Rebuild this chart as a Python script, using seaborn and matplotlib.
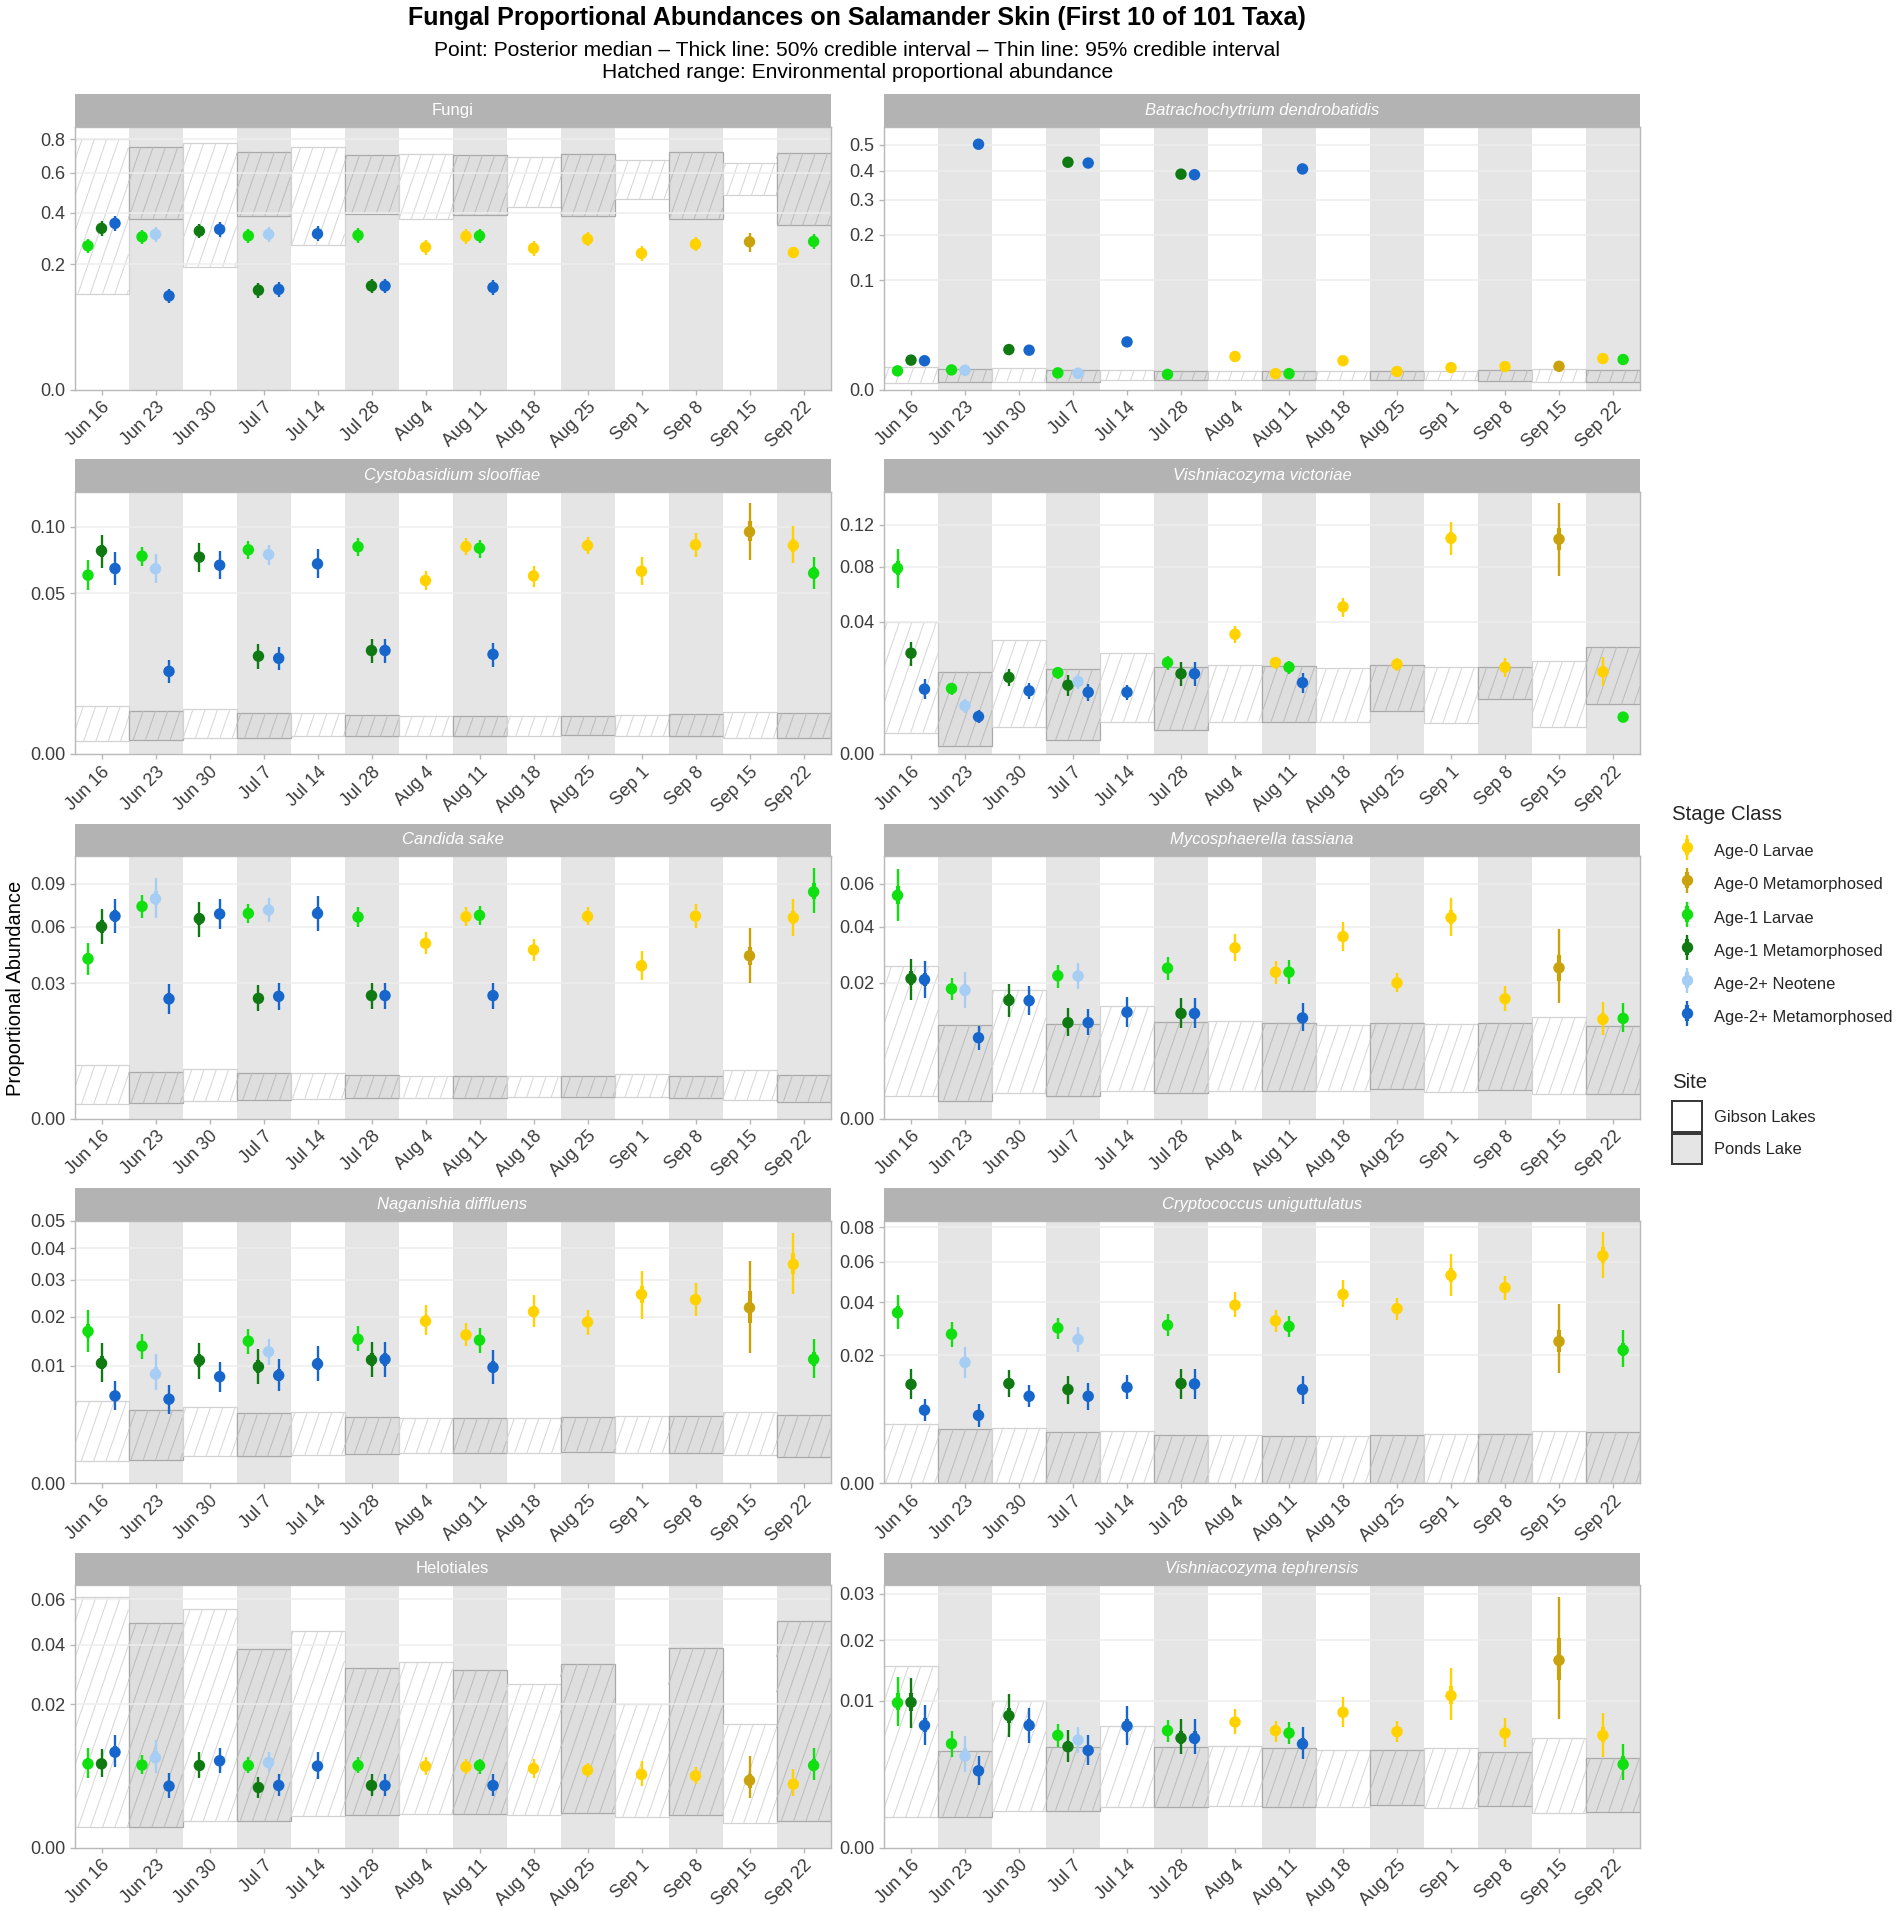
import numpy as np
import pandas as pd
import matplotlib
matplotlib.use("Agg")
import matplotlib.pyplot as plt
import seaborn as sns
from matplotlib.collections import LineCollection
from matplotlib.transforms import IdentityTransform
from matplotlib.lines import Line2D
from matplotlib.patches import Patch
from matplotlib.legend_handler import HandlerTuple

# ---------------------------------------------------------------- data
DATES = ["Jun 16", "Jun 23", "Jun 30", "Jul 7", "Jul 14", "Jul 28", "Aug 4",
         "Aug 11", "Aug 18", "Aug 25", "Sep 1", "Sep 8", "Sep 15", "Sep 22"]
SITES = ["Gibson Lakes", "Ponds Lake", "Gibson Lakes", "Ponds Lake", "Gibson Lakes",
         "Ponds Lake", "Gibson Lakes", "Ponds Lake", "Gibson Lakes", "Ponds Lake",
         "Gibson Lakes", "Ponds Lake", "Gibson Lakes", "Ponds Lake"]
STAGES = ["Age-0 Larvae", "Age-0 Metamorphosed", "Age-1 Larvae",
          "Age-1 Metamorphosed", "Age-2+ Neotene", "Age-2+ Metamorphosed"]
STAGE_COLORS = ["#FFD200", "#C9A20C", "#10E010", "#0F7A12", "#A6CEF5", "#1766CC"]

OBS_DATE = ["Jun 16", "Jun 16", "Jun 16", "Jun 23", "Jun 23", "Jun 23", "Jun 30", "Jun 30",
            "Jul 7", "Jul 7", "Jul 7", "Jul 7", "Jul 14", "Jul 28", "Jul 28", "Jul 28",
            "Aug 4", "Aug 11", "Aug 11", "Aug 11", "Aug 18", "Aug 25", "Sep 1", "Sep 8",
            "Sep 15", "Sep 22", "Sep 22"]
OBS_STAGE = ["Age-1 Larvae", "Age-1 Metamorphosed", "Age-2+ Metamorphosed",
             "Age-1 Larvae", "Age-2+ Neotene", "Age-2+ Metamorphosed",
             "Age-1 Metamorphosed", "Age-2+ Metamorphosed",
             "Age-1 Larvae", "Age-1 Metamorphosed", "Age-2+ Neotene", "Age-2+ Metamorphosed",
             "Age-2+ Metamorphosed",
             "Age-1 Larvae", "Age-1 Metamorphosed", "Age-2+ Metamorphosed",
             "Age-0 Larvae",
             "Age-0 Larvae", "Age-1 Larvae", "Age-2+ Metamorphosed",
             "Age-0 Larvae", "Age-0 Larvae", "Age-0 Larvae", "Age-0 Larvae",
             "Age-0 Metamorphosed",
             "Age-0 Larvae", "Age-1 Larvae"]

TAXA = ["Fungi", "Batrachochytrium dendrobatidis", "Cystobasidium slooffiae",
        "Vishniacozyma victoriae", "Candida sake", "Mycosphaerella tassiana",
        "Naganishia diffluens", "Cryptococcus uniguttulatus", "Helotiales",
        "Vishniacozyma tephrensis"]
TAXA_ITALIC = [False, True, True, True, True, True, True, True, False, True]

# Fungi
FUNGI_MED = [0.264, 0.332, 0.353, 0.298, 0.308, 0.112, 0.321, 0.328, 0.302, 0.126, 0.308, 0.128, 0.310, 0.304, 0.137, 0.137, 0.259, 0.300, 0.302, 0.133, 0.255, 0.289, 0.237, 0.270, 0.279, 0.240, 0.280]
FUNGI_LO95 = [0.238, 0.303, 0.323, 0.270, 0.280, 0.095, 0.292, 0.299, 0.274, 0.108, 0.280, 0.110, 0.282, 0.276, 0.118, 0.118, 0.233, 0.272, 0.274, 0.115, 0.229, 0.262, 0.212, 0.244, 0.243, 0.223, 0.253]
FUNGI_HI95 = [0.291, 0.363, 0.385, 0.327, 0.338, 0.130, 0.351, 0.359, 0.331, 0.145, 0.338, 0.147, 0.340, 0.333, 0.157, 0.157, 0.286, 0.329, 0.331, 0.153, 0.282, 0.318, 0.263, 0.298, 0.312, 0.261, 0.308]
FUNGI_LO50 = [0.253, 0.319, 0.340, 0.286, 0.296, 0.105, 0.309, 0.315, 0.290, 0.118, 0.296, 0.120, 0.298, 0.292, 0.129, 0.129, 0.248, 0.288, 0.290, 0.125, 0.244, 0.277, 0.227, 0.259, 0.266, 0.233, 0.268]
FUNGI_HI50 = [0.275, 0.345, 0.366, 0.310, 0.320, 0.119, 0.334, 0.341, 0.314, 0.134, 0.320, 0.136, 0.322, 0.316, 0.145, 0.145, 0.270, 0.312, 0.314, 0.141, 0.266, 0.301, 0.248, 0.282, 0.292, 0.247, 0.292]
FUNGI_ENV_LO = [0.117, 0.373, 0.191, 0.386, 0.267, 0.392, 0.370, 0.389, 0.426, 0.383, 0.464, 0.371, 0.483, 0.344]
FUNGI_ENV_HI = [0.804, 0.750, 0.779, 0.723, 0.752, 0.701, 0.711, 0.703, 0.693, 0.711, 0.673, 0.719, 0.656, 0.717]

# Batrachochytrium dendrobatidis
BD_MED = [0.0029, 0.0072, 0.0069, 0.0032, 0.0031, 0.502, 0.0133, 0.0129, 0.0023, 0.431, 0.0022, 0.428, 0.0189, 0.0019, 0.387, 0.385, 0.0091, 0.0021, 0.0021, 0.406, 0.0069, 0.0027, 0.0040, 0.0044, 0.0045, 0.0080, 0.0075]
BD_LO95 = [0.0021, 0.0059, 0.0056, 0.0024, 0.0023, 0.482, 0.0115, 0.0112, 0.0016, 0.413, 0.0015, 0.410, 0.0168, 0.0013, 0.370, 0.368, 0.0076, 0.0014, 0.0014, 0.388, 0.0056, 0.0019, 0.0030, 0.0034, 0.0035, 0.0066, 0.0062]
BD_HI95 = [0.0038, 0.0086, 0.0083, 0.0042, 0.0041, 0.522, 0.0152, 0.0148, 0.0031, 0.450, 0.0030, 0.447, 0.0212, 0.0027, 0.405, 0.403, 0.0107, 0.0029, 0.0029, 0.424, 0.0083, 0.0036, 0.0051, 0.0055, 0.0056, 0.0095, 0.0089]
BD_LO50 = [0.0026, 0.0066, 0.0063, 0.0028, 0.0027, 0.494, 0.0125, 0.0121, 0.0020, 0.423, 0.0019, 0.420, 0.0180, 0.0016, 0.380, 0.378, 0.0084, 0.0018, 0.0018, 0.399, 0.0063, 0.0023, 0.0036, 0.0040, 0.0041, 0.0074, 0.0069]
BD_HI50 = [0.0033, 0.0078, 0.0075, 0.0036, 0.0035, 0.511, 0.0141, 0.0137, 0.0027, 0.439, 0.0026, 0.436, 0.0199, 0.0022, 0.394, 0.392, 0.0098, 0.0024, 0.0024, 0.413, 0.0075, 0.0031, 0.0045, 0.0049, 0.0050, 0.0087, 0.0081]
BD_ENV_LO = [0.00037, 0.00045, 0.00053, 0.00053, 0.00073, 0.00068, 0.00073, 0.00073, 0.00073, 0.00073, 0.00073, 0.00063, 0.00049, 0.00045]
BD_ENV_HI = [0.00428, 0.00356, 0.00380, 0.00333, 0.00320, 0.00301, 0.00290, 0.00280, 0.00290, 0.00290, 0.00290, 0.00320, 0.00356, 0.00333]

# Cystobasidium slooffiae
CYSTO_MED = [0.0618, 0.0798, 0.0665, 0.0757, 0.0663, 0.0132, 0.0749, 0.0689, 0.0806, 0.0185, 0.0769, 0.0177, 0.0699, 0.0830, 0.0207, 0.0207, 0.0582, 0.0832, 0.0819, 0.0192, 0.0613, 0.0840, 0.0646, 0.0846, 0.0954, 0.0840, 0.0632]
CYSTO_LO95 = [0.0521, 0.0672, 0.0553, 0.0680, 0.0564, 0.0097, 0.0639, 0.0591, 0.0734, 0.0141, 0.0692, 0.0137, 0.0597, 0.0757, 0.0159, 0.0159, 0.0517, 0.0762, 0.0744, 0.0148, 0.0542, 0.0772, 0.0551, 0.0754, 0.0724, 0.0704, 0.0525]
CYSTO_HI95 = [0.0729, 0.0926, 0.0787, 0.0832, 0.0772, 0.0171, 0.0859, 0.0793, 0.0876, 0.0233, 0.0846, 0.0223, 0.0811, 0.0898, 0.0256, 0.0256, 0.0646, 0.0900, 0.0889, 0.0240, 0.0684, 0.0909, 0.0749, 0.0943, 0.1217, 0.1001, 0.0754]
CYSTO_LO50 = [0.0584, 0.0754, 0.0626, 0.0730, 0.0628, 0.0120, 0.0711, 0.0655, 0.0781, 0.0169, 0.0742, 0.0163, 0.0663, 0.0804, 0.0190, 0.0190, 0.0559, 0.0808, 0.0793, 0.0177, 0.0588, 0.0816, 0.0613, 0.0814, 0.0873, 0.0792, 0.0595]
CYSTO_HI50 = [0.0657, 0.0843, 0.0708, 0.0783, 0.0701, 0.0146, 0.0788, 0.0725, 0.0830, 0.0202, 0.0796, 0.0193, 0.0738, 0.0854, 0.0224, 0.0224, 0.0604, 0.0856, 0.0843, 0.0209, 0.0638, 0.0864, 0.0682, 0.0880, 0.1045, 0.0896, 0.0675]
CYSTO_ENV_LO = [0.00031, 0.00036, 0.00050, 0.00052, 0.00060, 0.00060, 0.00062, 0.00064, 0.00064, 0.00070, 0.00060, 0.00064, 0.00052, 0.00048]
CYSTO_ENV_HI = [0.00440, 0.00358, 0.00386, 0.00320, 0.00320, 0.00290, 0.00285, 0.00285, 0.00285, 0.00285, 0.00300, 0.00305, 0.00336, 0.00325]

# Vishniacozyma victoriae
VVIC_MED = [0.0787, 0.0232, 0.0096, 0.0098, 0.0053, 0.0032, 0.0134, 0.0091, 0.0151, 0.0108, 0.0120, 0.0087, 0.0087, 0.0191, 0.0147, 0.0147, 0.0327, 0.0191, 0.0172, 0.0116, 0.0494, 0.0184, 0.1062, 0.0172, 0.1053, 0.0154, 0.0031]
VVIC_LO95 = [0.0632, 0.0178, 0.0068, 0.0080, 0.0039, 0.0022, 0.0104, 0.0069, 0.0129, 0.0077, 0.0096, 0.0063, 0.0067, 0.0161, 0.0107, 0.0107, 0.0283, 0.0164, 0.0145, 0.0084, 0.0431, 0.0157, 0.0905, 0.0137, 0.0724, 0.0106, 0.0024]
VVIC_HI95 = [0.0957, 0.0287, 0.0129, 0.0116, 0.0068, 0.0044, 0.0164, 0.0114, 0.0174, 0.0141, 0.0145, 0.0113, 0.0108, 0.0219, 0.0192, 0.0192, 0.0374, 0.0216, 0.0198, 0.0151, 0.0558, 0.0209, 0.1233, 0.0209, 0.1443, 0.0216, 0.0041]
VVIC_LO50 = [0.0733, 0.0213, 0.0086, 0.0091, 0.0048, 0.0029, 0.0124, 0.0083, 0.0143, 0.0097, 0.0111, 0.0079, 0.0080, 0.0180, 0.0133, 0.0133, 0.0312, 0.0181, 0.0162, 0.0105, 0.0472, 0.0174, 0.1007, 0.0159, 0.0951, 0.0137, 0.0029]
VVIC_HI50 = [0.0847, 0.0251, 0.0107, 0.0104, 0.0058, 0.0037, 0.0145, 0.0099, 0.0159, 0.0120, 0.0128, 0.0096, 0.0094, 0.0201, 0.0163, 0.0163, 0.0344, 0.0200, 0.0181, 0.0128, 0.0516, 0.0193, 0.1122, 0.0185, 0.1163, 0.0176, 0.0035]
VVIC_ENV_LO = [0.00104, 0.00015, 0.00170, 0.00045, 0.00229, 0.00132, 0.00239, 0.00239, 0.00234, 0.00429, 0.00215, 0.00691, 0.00167, 0.00571]
VVIC_ENV_HI = [0.0400, 0.0155, 0.0297, 0.0164, 0.0232, 0.0172, 0.0180, 0.0177, 0.0168, 0.0180, 0.0172, 0.0174, 0.0196, 0.0260]

# Candida sake
CSAKE_MED = [0.0417, 0.0602, 0.0670, 0.0736, 0.0790, 0.0234, 0.0653, 0.0684, 0.0688, 0.0236, 0.0711, 0.0244, 0.0688, 0.0664, 0.0247, 0.0247, 0.0502, 0.0666, 0.0675, 0.0247, 0.0465, 0.0668, 0.0381, 0.0670, 0.0433, 0.0659, 0.0840]
CSAKE_LO95 = [0.0339, 0.0497, 0.0565, 0.0655, 0.0655, 0.0179, 0.0541, 0.0585, 0.0627, 0.0188, 0.0631, 0.0194, 0.0573, 0.0602, 0.0196, 0.0196, 0.0443, 0.0606, 0.0612, 0.0196, 0.0406, 0.0610, 0.0312, 0.0596, 0.0300, 0.0545, 0.0688]
CSAKE_HI95 = [0.0502, 0.0715, 0.0787, 0.0816, 0.0947, 0.0297, 0.0766, 0.0790, 0.0756, 0.0291, 0.0794, 0.0300, 0.0809, 0.0733, 0.0300, 0.0300, 0.0567, 0.0729, 0.0740, 0.0300, 0.0529, 0.0729, 0.0461, 0.0750, 0.0596, 0.0787, 0.1027]
CSAKE_LO50 = [0.0390, 0.0565, 0.0633, 0.0708, 0.0743, 0.0214, 0.0614, 0.0649, 0.0667, 0.0219, 0.0683, 0.0227, 0.0648, 0.0642, 0.0229, 0.0229, 0.0481, 0.0645, 0.0653, 0.0229, 0.0444, 0.0648, 0.0357, 0.0644, 0.0386, 0.0619, 0.0787]
CSAKE_HI50 = [0.0447, 0.0642, 0.0711, 0.0764, 0.0845, 0.0256, 0.0693, 0.0721, 0.0712, 0.0255, 0.0740, 0.0264, 0.0730, 0.0688, 0.0265, 0.0265, 0.0525, 0.0688, 0.0698, 0.0266, 0.0487, 0.0689, 0.0409, 0.0698, 0.0483, 0.0704, 0.0905]
CSAKE_ENV_LO = [0.00033, 0.00038, 0.00050, 0.00055, 0.00065, 0.00067, 0.00072, 0.00072, 0.00076, 0.00078, 0.00074, 0.00072, 0.00057, 0.00047]
CSAKE_ENV_HI = [0.00467, 0.00358, 0.00400, 0.00343, 0.00333, 0.00304, 0.00295, 0.00295, 0.00295, 0.00290, 0.00323, 0.00295, 0.00384, 0.00309]

# Mycosphaerella tassiana
MYCO_MED = [0.0542, 0.0213, 0.0210, 0.0183, 0.0179, 0.0071, 0.0152, 0.0151, 0.0222, 0.0100, 0.0221, 0.0100, 0.0123, 0.0246, 0.0120, 0.0120, 0.0317, 0.0233, 0.0233, 0.0110, 0.0360, 0.0200, 0.0439, 0.0156, 0.0247, 0.0107, 0.0109]
MYCO_LO95 = [0.0424, 0.0154, 0.0157, 0.0152, 0.0134, 0.0051, 0.0112, 0.0116, 0.0186, 0.0074, 0.0182, 0.0076, 0.0091, 0.0210, 0.0090, 0.0090, 0.0269, 0.0198, 0.0198, 0.0083, 0.0304, 0.0174, 0.0363, 0.0125, 0.0145, 0.0076, 0.0082]
MYCO_HI95 = [0.0679, 0.0278, 0.0270, 0.0216, 0.0234, 0.0093, 0.0198, 0.0191, 0.0258, 0.0132, 0.0263, 0.0130, 0.0161, 0.0284, 0.0157, 0.0157, 0.0372, 0.0269, 0.0272, 0.0144, 0.0420, 0.0231, 0.0531, 0.0190, 0.0390, 0.0148, 0.0145]
MYCO_LO50 = [0.0501, 0.0193, 0.0191, 0.0172, 0.0163, 0.0064, 0.0138, 0.0139, 0.0209, 0.0091, 0.0207, 0.0092, 0.0112, 0.0233, 0.0109, 0.0109, 0.0300, 0.0221, 0.0221, 0.0101, 0.0340, 0.0191, 0.0412, 0.0145, 0.0205, 0.0096, 0.0099]
MYCO_HI50 = [0.0590, 0.0236, 0.0231, 0.0194, 0.0198, 0.0079, 0.0168, 0.0165, 0.0235, 0.0111, 0.0236, 0.0110, 0.0136, 0.0259, 0.0133, 0.0133, 0.0336, 0.0245, 0.0247, 0.0122, 0.0381, 0.0211, 0.0471, 0.0168, 0.0290, 0.0121, 0.0122]
MYCO_ENV_LO = [0.00054, 0.00034, 0.00072, 0.00054, 0.00085, 0.00073, 0.00085, 0.00085, 0.00085, 0.00093, 0.00077, 0.00089, 0.00063, 0.00063]
MYCO_ENV_HI = [0.0252, 0.0095, 0.0181, 0.0098, 0.0138, 0.0102, 0.0104, 0.0100, 0.0096, 0.0100, 0.0098, 0.0100, 0.0112, 0.0094]

# Naganishia diffluens
NAGA_MED = [0.0167, 0.0104, 0.0055, 0.0136, 0.0086, 0.0051, 0.0109, 0.0082, 0.0146, 0.0098, 0.0125, 0.0084, 0.0103, 0.0150, 0.0110, 0.0111, 0.0190, 0.0159, 0.0148, 0.0097, 0.0213, 0.0188, 0.0258, 0.0244, 0.0223, 0.0347, 0.0111]
NAGA_LO95 = [0.0125, 0.0074, 0.0039, 0.0111, 0.0063, 0.0035, 0.0079, 0.0060, 0.0121, 0.0071, 0.0101, 0.0061, 0.0075, 0.0126, 0.0081, 0.0081, 0.0158, 0.0136, 0.0123, 0.0071, 0.0176, 0.0160, 0.0196, 0.0202, 0.0123, 0.0259, 0.0080]
NAGA_HI95 = [0.0216, 0.0142, 0.0075, 0.0162, 0.0120, 0.0070, 0.0143, 0.0106, 0.0171, 0.0131, 0.0151, 0.0111, 0.0136, 0.0178, 0.0144, 0.0145, 0.0231, 0.0185, 0.0174, 0.0128, 0.0257, 0.0216, 0.0325, 0.0289, 0.0358, 0.0455, 0.0151]
NAGA_LO50 = [0.0152, 0.0094, 0.0049, 0.0127, 0.0078, 0.0045, 0.0098, 0.0074, 0.0137, 0.0088, 0.0116, 0.0076, 0.0093, 0.0142, 0.0100, 0.0100, 0.0179, 0.0151, 0.0139, 0.0088, 0.0200, 0.0178, 0.0236, 0.0229, 0.0185, 0.0316, 0.0100]
NAGA_HI50 = [0.0184, 0.0117, 0.0062, 0.0145, 0.0098, 0.0058, 0.0121, 0.0090, 0.0154, 0.0109, 0.0134, 0.0094, 0.0114, 0.0160, 0.0122, 0.0123, 0.0204, 0.0168, 0.0157, 0.0108, 0.0228, 0.0198, 0.0282, 0.0260, 0.0268, 0.0384, 0.0125]
NAGA_ENV_LO = [0.00034, 0.00039, 0.00051, 0.00054, 0.00058, 0.00062, 0.00065, 0.00066, 0.00066, 0.00072, 0.00066, 0.00066, 0.00055, 0.00049]
NAGA_ENV_HI = [0.00487, 0.00386, 0.00422, 0.00352, 0.00362, 0.00316, 0.00310, 0.00303, 0.00303, 0.00313, 0.00322, 0.00322, 0.00362, 0.00332]

# Cryptococcus uniguttulatus
CRYPTO_MED = [0.0355, 0.0119, 0.0065, 0.0271, 0.0178, 0.0056, 0.0121, 0.0092, 0.0294, 0.0107, 0.0252, 0.0092, 0.0112, 0.0305, 0.0121, 0.0120, 0.0387, 0.0322, 0.0300, 0.0107, 0.0435, 0.0372, 0.0528, 0.0467, 0.0245, 0.0632, 0.0216]
CRYPTO_LO95 = [0.0290, 0.0086, 0.0047, 0.0227, 0.0134, 0.0039, 0.0091, 0.0070, 0.0255, 0.0077, 0.0211, 0.0066, 0.0086, 0.0265, 0.0087, 0.0087, 0.0336, 0.0280, 0.0260, 0.0077, 0.0377, 0.0327, 0.0429, 0.0410, 0.0149, 0.0512, 0.0165]
CRYPTO_HI95 = [0.0432, 0.0159, 0.0086, 0.0318, 0.0227, 0.0076, 0.0156, 0.0117, 0.0334, 0.0140, 0.0296, 0.0123, 0.0144, 0.0348, 0.0158, 0.0158, 0.0445, 0.0366, 0.0341, 0.0140, 0.0504, 0.0417, 0.0642, 0.0524, 0.0390, 0.0773, 0.0286]
CRYPTO_LO50 = [0.0332, 0.0107, 0.0058, 0.0256, 0.0162, 0.0050, 0.0110, 0.0084, 0.0280, 0.0097, 0.0238, 0.0083, 0.0103, 0.0291, 0.0109, 0.0109, 0.0369, 0.0307, 0.0286, 0.0097, 0.0415, 0.0356, 0.0493, 0.0447, 0.0211, 0.0590, 0.0198]
CRYPTO_HI50 = [0.0382, 0.0133, 0.0072, 0.0288, 0.0195, 0.0063, 0.0133, 0.0101, 0.0308, 0.0118, 0.0267, 0.0103, 0.0123, 0.0320, 0.0134, 0.0133, 0.0407, 0.0337, 0.0314, 0.0118, 0.0459, 0.0388, 0.0568, 0.0487, 0.0286, 0.0682, 0.0241]
CRYPTO_ENV_LO = [0.0, 0.0, 0.0, 0.0, 0.0, 0.0, 0.0, 0.0, 0.0, 0.0, 0.0, 0.0, 0.0, 0.0]
CRYPTO_ENV_HI = [0.00432, 0.00353, 0.00376, 0.00319, 0.00328, 0.00287, 0.00279, 0.00275, 0.00275, 0.00283, 0.00295, 0.00299, 0.00332, 0.00315]

# Helotiales
HELOT_MED = [0.00681, 0.00681, 0.00884, 0.00660, 0.00782, 0.00366, 0.00654, 0.00731, 0.00654, 0.00350, 0.00703, 0.00374, 0.00644, 0.00654, 0.00374, 0.00374, 0.00644, 0.00633, 0.00654, 0.00374, 0.00607, 0.00582, 0.00519, 0.00500, 0.00437, 0.00390, 0.00654]
HELOT_LO95 = [0.00463, 0.00486, 0.00623, 0.00523, 0.00543, 0.00234, 0.00472, 0.00543, 0.00533, 0.00243, 0.00557, 0.00260, 0.00459, 0.00533, 0.00260, 0.00260, 0.00509, 0.00519, 0.00519, 0.00260, 0.00472, 0.00477, 0.00366, 0.00386, 0.00234, 0.00256, 0.00441]
HELOT_HI95 = [0.00967, 0.00941, 0.01228, 0.00830, 0.01121, 0.00533, 0.00878, 0.00967, 0.00800, 0.00486, 0.00878, 0.00519, 0.00878, 0.00788, 0.00519, 0.00519, 0.00788, 0.00759, 0.00759, 0.00519, 0.00754, 0.00687, 0.00725, 0.00623, 0.00818, 0.00592, 0.00954]
HELOT_LO50 = [0.0060, 0.0061, 0.0079, 0.0061, 0.0070, 0.0032, 0.0059, 0.0067, 0.0061, 0.0031, 0.0065, 0.0033, 0.0058, 0.0061, 0.0033, 0.0033, 0.0060, 0.0059, 0.0061, 0.0033, 0.0056, 0.0055, 0.0047, 0.0046, 0.0035, 0.0034, 0.0058]
HELOT_HI50 = [0.0078, 0.0077, 0.0100, 0.0072, 0.0090, 0.0042, 0.0073, 0.0081, 0.0071, 0.0040, 0.0076, 0.0042, 0.0073, 0.0070, 0.0042, 0.0042, 0.0069, 0.0068, 0.0068, 0.0042, 0.0066, 0.0062, 0.0059, 0.0054, 0.0052, 0.0046, 0.0076]
HELOT_ENV_LO = [0.00040, 0.00040, 0.00067, 0.00069, 0.00096, 0.00100, 0.00110, 0.00107, 0.00103, 0.00117, 0.00092, 0.00100, 0.00059, 0.00069]
HELOT_ENV_HI = [0.0612, 0.0488, 0.0553, 0.0382, 0.0457, 0.0314, 0.0333, 0.0307, 0.0260, 0.0328, 0.0199, 0.0388, 0.0149, 0.0497]

# Vishniacozyma tephrensis
VTEPH_MED = [0.00977, 0.00982, 0.00695, 0.00502, 0.00390, 0.00274, 0.00810, 0.00695, 0.00586, 0.00473, 0.00538, 0.00439, 0.00688, 0.00636, 0.00558, 0.00555, 0.00734, 0.00636, 0.00610, 0.00499, 0.00851, 0.00625, 0.01074, 0.00610, 0.01633, 0.00586, 0.00322]
VTEPH_LO95 = [0.00691, 0.00661, 0.00489, 0.00384, 0.00267, 0.00183, 0.00565, 0.00512, 0.00473, 0.00343, 0.00413, 0.00317, 0.00489, 0.00515, 0.00404, 0.00404, 0.00596, 0.00521, 0.00499, 0.00362, 0.00672, 0.00521, 0.00757, 0.00473, 0.00769, 0.00384, 0.00212]
VTEPH_HI95 = [0.01360, 0.01344, 0.00946, 0.00632, 0.00579, 0.00392, 0.01098, 0.00907, 0.00707, 0.00643, 0.00680, 0.00589, 0.00937, 0.00757, 0.00765, 0.00765, 0.00894, 0.00749, 0.00730, 0.00672, 0.01051, 0.00745, 0.01496, 0.00777, 0.02934, 0.00847, 0.00499]
VTEPH_LO50 = [0.0088, 0.0087, 0.0062, 0.0046, 0.0035, 0.0024, 0.0072, 0.0063, 0.0055, 0.0043, 0.0050, 0.0040, 0.0062, 0.0060, 0.0050, 0.0050, 0.0069, 0.0060, 0.0057, 0.0045, 0.0079, 0.0059, 0.0096, 0.0056, 0.0130, 0.0052, 0.0028]
VTEPH_HI50 = [0.0111, 0.0111, 0.0078, 0.0055, 0.0046, 0.0031, 0.0091, 0.0077, 0.0063, 0.0053, 0.0059, 0.0049, 0.0077, 0.0068, 0.0063, 0.0063, 0.0079, 0.0067, 0.0065, 0.0056, 0.0092, 0.0067, 0.0122, 0.0066, 0.0204, 0.0068, 0.0039]
VTEPH_ENV_LO = [0.00042, 0.00044, 0.00061, 0.00063, 0.00075, 0.00075, 0.00080, 0.00078, 0.00077, 0.00084, 0.00071, 0.00080, 0.00054, 0.00059]
VTEPH_ENV_HI = [0.01536, 0.00430, 0.00995, 0.00467, 0.00684, 0.00473, 0.00483, 0.00458, 0.00439, 0.00445, 0.00464, 0.00424, 0.00555, 0.00375]

Y_MAX = [0.881, 0.575, 0.1332, 0.1572, 0.1127, 0.0750, 0.0498, 0.0843, 0.0670, 0.0321]
Y_TICKS = [[0, 0.2, 0.4, 0.6, 0.8], [0, 0.1, 0.2, 0.3, 0.4, 0.5], [0, 0.05, 0.10],
           [0, 0.04, 0.08, 0.12], [0, 0.03, 0.06, 0.09], [0, 0.02, 0.04, 0.06],
           [0, 0.01, 0.02, 0.03, 0.04, 0.05], [0, 0.02, 0.04, 0.06, 0.08],
           [0, 0.02, 0.04, 0.06], [0, 0.01, 0.02, 0.03]]
Y_DECIMALS = [1, 1, 2, 2, 2, 2, 2, 2, 2, 2]

PANEL_DATA = [
    (FUNGI_MED, FUNGI_LO95, FUNGI_HI95, FUNGI_LO50, FUNGI_HI50, FUNGI_ENV_LO, FUNGI_ENV_HI),
    (BD_MED, BD_LO95, BD_HI95, BD_LO50, BD_HI50, BD_ENV_LO, BD_ENV_HI),
    (CYSTO_MED, CYSTO_LO95, CYSTO_HI95, CYSTO_LO50, CYSTO_HI50, CYSTO_ENV_LO, CYSTO_ENV_HI),
    (VVIC_MED, VVIC_LO95, VVIC_HI95, VVIC_LO50, VVIC_HI50, VVIC_ENV_LO, VVIC_ENV_HI),
    (CSAKE_MED, CSAKE_LO95, CSAKE_HI95, CSAKE_LO50, CSAKE_HI50, CSAKE_ENV_LO, CSAKE_ENV_HI),
    (MYCO_MED, MYCO_LO95, MYCO_HI95, MYCO_LO50, MYCO_HI50, MYCO_ENV_LO, MYCO_ENV_HI),
    (NAGA_MED, NAGA_LO95, NAGA_HI95, NAGA_LO50, NAGA_HI50, NAGA_ENV_LO, NAGA_ENV_HI),
    (CRYPTO_MED, CRYPTO_LO95, CRYPTO_HI95, CRYPTO_LO50, CRYPTO_HI50, CRYPTO_ENV_LO, CRYPTO_ENV_HI),
    (HELOT_MED, HELOT_LO95, HELOT_HI95, HELOT_LO50, HELOT_HI50, HELOT_ENV_LO, HELOT_ENV_HI),
    (VTEPH_MED, VTEPH_LO95, VTEPH_HI95, VTEPH_LO50, VTEPH_HI50, VTEPH_ENV_LO, VTEPH_ENV_HI),
]

# ---------------------------------------------------------------- style
sns.set_style("white")
plt.rcParams["font.family"] = ["Liberation Sans", "DejaVu Sans"]

W, H, DPI = 1902, 1911, 100
fig = plt.figure(figsize=(W / DPI, H / DPI), dpi=DPI)
fig.patch.set_facecolor("white")

PONDS_BG = "#E5E5E5"
GRID_C = "#EDEDED"
FRAME_C = "#B8B8B8"
TEXT_C = "#3C3C3C"
TICK_FS = 13
HATCH_STEP = 12.3
HATCH_SLOPE = 2.9
LEG_FS = 11.9

COL_LEFT = [74.5, 884.0]
PANEL_W = 756.0
ROW_TOP = [127.0, 491.5, 856.0, 1220.5, 1585.0]
PANEL_H = 262.5
STRIP_H = 32.5

stage_color = dict(zip(STAGES, STAGE_COLORS))

# dodge positions (ggplot-style: only the groups present at each date)
obs = pd.DataFrame({"date": OBS_DATE, "stage": OBS_STAGE})
obs["di"] = obs["date"].map({d: i for i, d in enumerate(DATES)})
obs["rank"] = obs.groupby("di").cumcount()
obs["n"] = obs.groupby("di")["di"].transform("size")
obs["xpos"] = obs["di"] + (obs["rank"] - (obs["n"] - 1) / 2.0) * 0.75 / obs["n"]


def fwd(v):
    return np.sqrt(np.clip(v, 0, None))


def inv(v):
    return np.square(v)


def add_hatch(ax, patch, color):
    """Diagonal stripe fill, clipped analytically to the bar rectangle (pixel space)."""
    bb = patch.get_window_extent()
    x0, y0, x1, y1 = bb.x0, bb.y0, bb.x1, bb.y1
    if y1 - y0 <= 0.5:
        return
    m = HATCH_SLOPE
    c_lo = np.floor((x0 - y1 / m) / HATCH_STEP) * HATCH_STEP
    c_hi = x1 - y0 / m
    segs = []
    for cc in np.arange(c_lo, c_hi + HATCH_STEP, HATCH_STEP):
        ya = (x0 - cc) * m
        yb = (x1 - cc) * m
        lo = max(y0, ya)
        hi = min(y1, yb)
        if hi > lo:
            segs.append([(cc + lo / m, lo), (cc + hi / m, hi)])
    if segs:
        lc = LineCollection(segs, colors=color, linewidths=0.75,
                            transform=IdentityTransform(), zorder=1.1)
        ax.add_collection(lc, autolim=False)


hatch_jobs = []
for k, taxon in enumerate(TAXA):
    r, c = divmod(k, 2)
    left = COL_LEFT[c] / W
    bottom = 1 - (ROW_TOP[r] + PANEL_H) / H
    ax = fig.add_axes([left, bottom, PANEL_W / W, PANEL_H / H])
    ax.set_yscale("function", functions=(fwd, inv))

    med, lo95, hi95, lo50, hi50, env_lo, env_hi = PANEL_DATA[k]
    df = obs.copy()
    df["med"], df["lo95"], df["hi95"] = med, lo95, hi95
    df["lo50"], df["hi50"] = lo50, hi50
    cols = [stage_color[s] for s in df["stage"]]

    # site background columns
    for i, s in enumerate(SITES):
        if s == "Ponds Lake":
            ax.axvspan(i - 0.5, i + 0.5, color=PONDS_BG, lw=0, zorder=0.5)

    # environmental ranges (hatched rectangles)
    env_lo_a = np.array(env_lo)
    env_hi_a = np.array(env_hi)
    faces = ["white" if s == "Gibson Lakes" else "#DEDEDE" for s in SITES]
    edges = ["#D2D2D2" if s == "Gibson Lakes" else "#A9A9A9" for s in SITES]
    bars = ax.bar(np.arange(len(DATES)), env_hi_a - env_lo_a, bottom=env_lo_a,
                  width=1.0, color=faces, edgecolor=edges, linewidth=0.9, zorder=1)
    for p, s in zip(bars.patches, SITES):
        hatch_jobs.append((ax, p, "#D8D8D8" if s == "Gibson Lakes" else "#BDBDBD"))

    # horizontal grid
    for t in Y_TICKS[k][1:]:
        ax.axhline(t, color=GRID_C, lw=1.1, zorder=1.5)

    # credible intervals
    ax.vlines(df["xpos"], df["lo95"], df["hi95"], colors=cols, lw=1.7, zorder=2)
    ax.vlines(df["xpos"], df["lo50"], df["hi50"], colors=cols, lw=3.0, zorder=2.1)

    # posterior medians
    sns.scatterplot(data=df, x="xpos", y="med", hue="stage", hue_order=STAGES,
                    palette=STAGE_COLORS, s=68, edgecolor="none", linewidth=0,
                    legend=False, ax=ax, zorder=3)

    ax.set_xlim(-0.5, len(DATES) - 0.5)
    ax.set_ylim(0, Y_MAX[k])
    ax.set_xlabel("")
    ax.set_ylabel("")
    ax.set_xticks(np.arange(len(DATES)))
    ax.set_xticklabels(DATES, rotation=45, ha="right", va="top",
                       rotation_mode="anchor", fontsize=TICK_FS, color=TEXT_C)
    ax.set_yticks(Y_TICKS[k])
    fmt = "{:.%df}" % Y_DECIMALS[k]
    ax.set_yticklabels([fmt.format(t) for t in Y_TICKS[k]], fontsize=TICK_FS, color=TEXT_C)
    ax.minorticks_off()
    ax.tick_params(axis="both", which="major", length=3.6, width=1.0,
                   color=FRAME_C, pad=3.2, bottom=True, left=True)
    for sp in ax.spines.values():
        sp.set_color(FRAME_C)
        sp.set_linewidth(1.0)
    ax.grid(False)

    # facet strip
    sax = fig.add_axes([left, 1 - ROW_TOP[r] / H, PANEL_W / W, STRIP_H / H])
    sax.set_facecolor("#B3B3B3")
    sax.set_xticks([])
    sax.set_yticks([])
    for sp in sax.spines.values():
        sp.set_visible(False)
    sax.text(0.5, 0.5, taxon, transform=sax.transAxes, ha="center", va="center",
             color="white", fontsize=12,
             style="italic" if TAXA_ITALIC[k] else "normal")

for ax, p, col in hatch_jobs:
    add_hatch(ax, p, col)

# ---------------------------------------------------------------- titles
cx = (COL_LEFT[0] + COL_LEFT[1] + PANEL_W) / 2 / W
fig.text(cx, 1 - 18 / H,
         "Fungal Proportional Abundances on Salamander Skin (First 10 of 101 Taxa)",
         ha="center", va="center", fontsize=18.1, fontweight="bold", color="black")
fig.text(cx, 1 - 50 / H,
         "Point: Posterior median \u2013 Thick line: 50% credible interval \u2013 Thin line: 95% credible interval",
         ha="center", va="center", fontsize=15.1, color="black")
fig.text(cx, 1 - 72 / H, "Hatched range: Environmental proportional abundance",
         ha="center", va="center", fontsize=15.1, color="black")
fig.text(16 / W, 1 - 988 / H, "Proportional Abundance", rotation=90,
         ha="center", va="center", fontsize=14.5, color="black")

# ---------------------------------------------------------------- legends
stage_handles = []
for col in STAGE_COLORS:
    thin = Line2D([], [], ls="none", marker="|", ms=18, mew=1.7, color=col)
    thick = Line2D([], [], ls="none", marker="|", ms=12, mew=3.0, color=col)
    dot = Line2D([], [], ls="none", marker="o", ms=8.2, color=col, mec="none")
    stage_handles.append((thin, thick, dot))
leg1 = fig.legend(stage_handles, STAGES, handler_map={tuple: HandlerTuple(ndivide=1, pad=0)},
                  loc="upper left", bbox_to_anchor=(1672 / W, 1 - 805 / H),
                  bbox_transform=fig.transFigure, frameon=False, title="Stage Class",
                  title_fontsize=14.7, fontsize=LEG_FS, alignment="left", borderpad=0,
                  borderaxespad=0, handlelength=1.82, handleheight=1.95,
                  handletextpad=0.72, labelspacing=0.5, numpoints=1)
leg1._legend_box.sep = 0.5 * LEG_FS + 4.3   # extra gap between title and keys

site_handles = [Patch(facecolor="white", edgecolor="#333333", linewidth=1.4),
                Patch(facecolor=PONDS_BG, edgecolor="#333333", linewidth=1.4)]
leg2 = fig.legend(site_handles, ["Gibson Lakes", "Ponds Lake"], loc="upper left",
                  bbox_to_anchor=(1672 / W, 1 - 1073 / H), bbox_transform=fig.transFigure,
                  frameon=False, title="Site", title_fontsize=14.7, fontsize=LEG_FS,
                  alignment="left", borderpad=0, borderaxespad=0, handlelength=1.82,
                  handleheight=2.42, handletextpad=0.72, labelspacing=0.12)
leg2._legend_box.sep = 0.12 * LEG_FS + 5.4

fig.savefig("out.png", dpi=DPI, facecolor="white")
